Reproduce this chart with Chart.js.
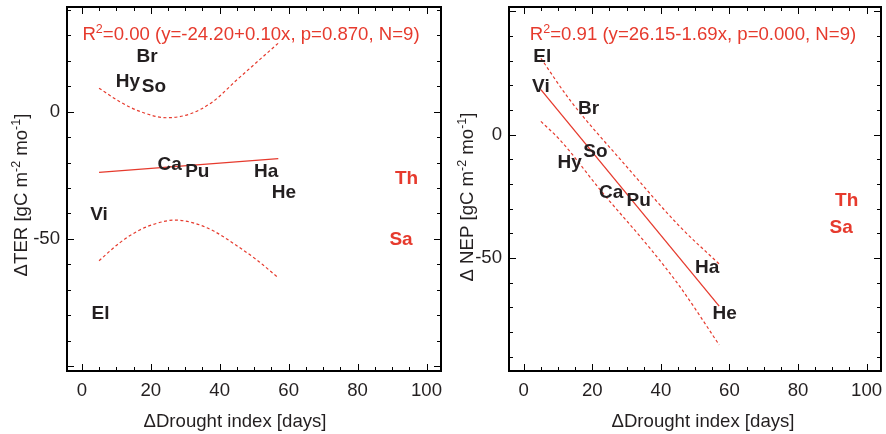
<!DOCTYPE html>
<html>
<head>
<meta charset="utf-8">
<script src="https://cdn.jsdelivr.net/npm/chart.js@4.4.1/dist/chart.umd.min.js"></script>
<style>
body { margin: 0; background: #fff; }
.panel { position: absolute; top: 0; width: 443px; height: 434px; }
</style>
</head>
<body>
<div class="panel" style="left:0"><canvas id="terChart" width="443" height="434"></canvas></div>
<div class="panel" style="left:443px"><canvas id="nepChart" width="443" height="434"></canvas></div>
<script>
// sites, drought index change and flux anomalies
const sites = ['El', 'Vi', 'Br', 'So', 'Hy', 'Ca', 'Pu', 'Ha', 'He', 'Th', 'Sa'];
const excluded = ['Th', 'Sa'];
const droughtIndex = [5.4, 5.0, 18.9, 20.9, 13.4, 25.5, 33.5, 53.5, 58.6, 94.2, 92.6];
const deltaTER = [-79.3, -40.4, 21.6, 9.6, 11.6, -21.0, -23.6, -23.6, -31.9, -26.5, -50.2];
const deltaNEP = [31.5, 19.4, 10.6, -7.0, -11.5, -23.4, -26.8, -54.1, -72.4, -26.8, -37.7];

// regression lines and confidence bands
const terFitX = [5, 57];
const terFitY = [-23.9, -18.5];
const terUpperX = [5, 11, 17, 24.6, 31.4, 38, 45, 51, 57];
const terUpperY = [9.2, 3.9, 0, -2.4, -0.9, 3.9, 12.5, 19.7, 26.9];
const terLowerX = [5, 11, 16.8, 21.7, 27, 32.3, 38.1, 44, 50.8, 57];
const terLowerY = [-58.6, -51.5, -46.5, -43.9, -42.6, -43.7, -46.8, -51.8, -58.3, -65.3];

const nepFitX = [5, 57];
const nepFitY = [18.3, -69.5];
const nepUpperX = [5, 13.4, 30, 45.5, 57];
const nepUpperY = [31, 14.2, -12.9, -37.2, -52.4];
const nepLowerX = [5, 10.5, 23.1, 36.8, 45.5, 57];
const nepLowerY = [5.4, -2.0, -23.7, -46.0, -61.5, -85.2];

const xTickLabels = [0, 20, 40, 60, 80, 100];
const yTickLabels = [0, -50];

const RED = '#e63a2d';
const INK = '#231f20';
const FONT = "'Liberation Sans', Arial, Helvetica, sans-serif";
const SIZE = 18.6;

function pts(xs, ys) {
    return xs.map((x, i) => ({ x: x, y: ys[i] }));
}

function drawRich(ctx, parts, x, y) {
    const widths = parts.map(p => {
        ctx.font = (p[1] ? '12.5px ' : SIZE + 'px ') + FONT;
        return ctx.measureText(p[0]).width;
    });
    let cx = x - widths.reduce((a, b) => a + b, 0) / 2;
    ctx.textAlign = 'left';
    ctx.textBaseline = 'alphabetic';
    parts.forEach((p, i) => {
        ctx.font = (p[1] ? '12.5px ' : SIZE + 'px ') + FONT;
        ctx.fillText(p[0], cx, p[1] ? y - 7 : y);
        cx += widths[i];
    });
}

const panelDecor = {
    id: 'panelDecor',
    afterDatasetsDraw(chart) {
        const ctx = chart.ctx;
        ctx.save();
        ctx.font = 'bold 19px ' + FONT;
        ctx.textAlign = 'center';
        ctx.textBaseline = 'middle';
        chart.getDatasetMeta(0).data.forEach((pt, i) => {
            ctx.fillStyle = excluded.includes(sites[i]) ? RED : INK;
            ctx.fillText(sites[i], pt.x, pt.y);
        });
        ctx.restore();
    },
    afterDraw(chart, args, o) {
        const ctx = chart.ctx;
        const a = chart.chartArea;
        const xs = chart.scales.x, ys = chart.scales.y;
        ctx.save();
        ctx.strokeStyle = '#000';
        ctx.lineWidth = 1;
        ctx.beginPath();
        for (let v = Math.ceil(xs.min / 5) * 5; v <= xs.max; v += 5) {
            const px = Math.round(xs.getPixelForValue(v)) + 0.5;
            const len = v % 20 === 0 ? 7 : 4;
            ctx.moveTo(px, a.bottom); ctx.lineTo(px, a.bottom - len);
            ctx.moveTo(px, a.top); ctx.lineTo(px, a.top + len);
        }
        for (let v = Math.ceil(ys.min / 10) * 10; v <= ys.max; v += 10) {
            const py = Math.round(ys.getPixelForValue(v)) + 0.5;
            const len = v % 50 === 0 ? 7 : 4;
            ctx.moveTo(a.left, py); ctx.lineTo(a.left + len, py);
            ctx.moveTo(a.right, py); ctx.lineTo(a.right - len, py);
        }
        ctx.stroke();
        ctx.lineWidth = 2;
        ctx.strokeRect(a.left, a.top, a.right - a.left, a.bottom - a.top);

        ctx.fillStyle = RED;
        drawRich(ctx, o.stats, a.left + 184, 40);
        ctx.fillStyle = INK;
        drawRich(ctx, [['\u0394Drought index [days]', false]], o.xTitleX, 427);
        ctx.translate(o.yTitleX, o.yTitleY);
        ctx.rotate(-Math.PI / 2);
        drawRich(ctx, o.yTitle, 0, 0);
        ctx.restore();
    }
};

function noPadding(s) {
    s.paddingLeft = 0;
    s.paddingRight = 0;
    s.paddingTop = 0;
    s.paddingBottom = 0;
}

function makePanel(id, values, fit, upper, lower, yMin, yMax, yWidth, padRight, decor) {
    const band = (data) => ({
        data: data, showLine: true, borderColor: RED, borderWidth: 1.2,
        borderDash: [3, 2.5], pointRadius: 0, cubicInterpolationMode: 'monotone'
    });
    return new Chart(document.getElementById(id), {
        type: 'scatter',
        data: {
            datasets: [
                { data: pts(droughtIndex, values), pointRadius: 0 },
                { data: fit, showLine: true, borderColor: RED, borderWidth: 1.3, pointRadius: 0 },
                band(upper),
                band(lower)
            ]
        },
        options: {
            responsive: false,
            animation: false,
            events: [],
            layout: { padding: { left: 0, top: 7, right: padRight, bottom: 0 } },
            plugins: { legend: { display: false }, tooltip: { enabled: false }, panelDecor: decor },
            scales: {
                x: {
                    type: 'linear', min: -4.3, max: 104.2,
                    grid: { display: false, drawTicks: false }, border: { display: false },
                    ticks: {
                        padding: 9, autoSkip: false, maxRotation: 0, color: INK,
                        font: { family: FONT, size: SIZE }
                    },
                    afterBuildTicks: s => { s.ticks = xTickLabels.map(v => ({ value: v })); },
                    afterFit: s => { s.height = 63; noPadding(s); }
                },
                y: {
                    type: 'linear', min: yMin, max: yMax,
                    grid: { display: false, drawTicks: false }, border: { display: false },
                    ticks: {
                        padding: 7, autoSkip: false, color: INK,
                        font: { family: FONT, size: SIZE }
                    },
                    afterBuildTicks: s => { s.ticks = yTickLabels.map(v => ({ value: v })); },
                    afterFit: s => { s.width = yWidth; noPadding(s); }
                }
            }
        },
        plugins: [panelDecor]
    });
}

makePanel('terChart', deltaTER, pts(terFitX, terFitY), pts(terUpperX, terUpperY), pts(terLowerX, terLowerY),
    -101.9, 41.1, 67, 2, {
        stats: [['R', false], ['2', true], ['=0.00 (y=-24.20+0.10x, p=0.870, N=9)', false]],
        xTitleX: 235, yTitleX: 27, yTitleY: 195,
        yTitle: [['\u0394TER [gC m', false], ['-2', true], [' mo', false], ['-1', true], [']', false]]
    });

makePanel('nepChart', deltaNEP, pts(nepFitX, nepFitY), pts(nepUpperX, nepUpperY), pts(nepLowerX, nepLowerY),
    -95.8, 51.8, 66, 5, {
        stats: [['R', false], ['2', true], ['=0.91 (y=26.15-1.69x, p=0.000, N=9)', false]],
        xTitleX: 260, yTitleX: 30, yTitleY: 197,
        yTitle: [['\u0394 NEP [gC m', false], ['-2', true], [' mo', false], ['-1', true], [']', false]]
    });
</script>
</body>
</html>
